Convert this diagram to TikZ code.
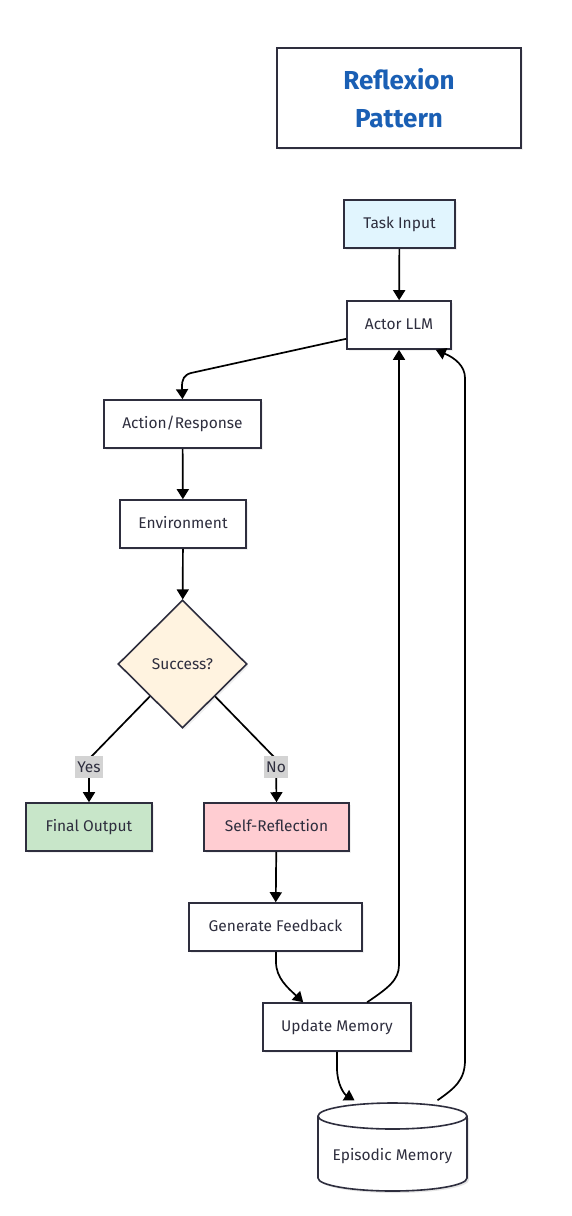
\documentclass[tikz,border=0pt]{standalone}
\usepackage{fontspec}
\setmainfont{Fira Sans}
\usetikzlibrary{arrows.meta,shapes.geometric,shadows}
\definecolor{bordc}{HTML}{2E2E3E}
\definecolor{titc}{HTML}{1A5FB4}
\definecolor{taskc}{HTML}{E1F5FE}
\definecolor{decc}{HTML}{FFF3E0}
\definecolor{finc}{HTML}{C8E6C9}
\definecolor{selfc}{HTML}{FFCDD2}
\definecolor{lblc}{HTML}{D3D3D3}
\tikzset{
  txt/.style={font=\fontsize{15.5}{18}\selectfont, text=bordc},
  box/.style={draw=bordc, line width=1.6pt, fill=white, minimum height=48pt, inner sep=0pt, txt,
    text height=11.5pt, text depth=3.5pt,
    drop shadow={opacity=0.12, shadow xshift=2pt, shadow yshift=-2pt}},
  arr/.style={line width=1.7pt, -{Triangle[width=12pt,length=10pt]}},
  lbl/.style={fill=lblc, inner xsep=2pt, inner ysep=0pt, minimum height=22pt, txt},
}
\begin{document}
\begin{tikzpicture}[x=1pt,y=-1pt]
\useasboundingbox (0,0) rectangle (572,1216);
\node[draw=bordc, line width=1.6pt, minimum width=244pt, minimum height=100pt, align=center,
  font=\fontsize{26}{38}\selectfont\bfseries, text=titc,
  drop shadow={opacity=0.12, shadow xshift=2pt, shadow yshift=-2pt}, fill=white] (title) at (399,98) {Reflexion\\Pattern};
\node[box, fill=taskc, minimum width=111pt] (task) at (399.5,224) {Task Input};
\node[box, minimum width=104pt] (actor) at (399,325) {Actor LLM};
\node[box, minimum width=157pt] (action) at (182.5,424) {Action/Response};
\node[box, minimum width=126pt] (env) at (183,524) {Environment};
\node[diamond, aspect=1, draw=bordc, line width=1.6pt, fill=decc, minimum width=129pt, minimum height=128pt, inner sep=0pt, txt,
  drop shadow={opacity=0.12, shadow xshift=2pt, shadow yshift=-2pt}] (succ) at (182.5,664) {Success?};
\node[box, fill=finc, minimum width=126pt] (final) at (89,827) {Final Output};
\node[box, fill=selfc, minimum width=145pt] (self) at (276.5,827) {Self-Reflection};
\node[box, minimum width=173pt] (gen) at (275.5,927) {Generate Feedback};
\node[box, minimum width=148pt] (upd) at (337,1027) {Update Memory};
% cylinder
\node[minimum width=149pt, minimum height=89pt, inner sep=0pt] (epi) at (392.5,1147) {};
\fill[black, opacity=0.1] (320,1118) -- (320,1180) .. controls (320,1187.2) and (353.4,1193) .. (394.5,1193) .. controls (435.6,1193) and (469,1187.2) .. (469,1180) -- (469,1118) -- cycle;
\filldraw[draw=bordc, fill=white, line width=1.6pt] (318,1116) -- (318,1178)
  .. controls (318,1185.2) and (351.4,1191) .. (392.5,1191) .. controls (433.6,1191) and (467,1185.2) .. (467,1178)
  -- (467,1116) .. controls (467,1108.8) and (433.6,1103) .. (392.5,1103) .. controls (351.4,1103) and (318,1108.8) .. (318,1116) -- cycle;
\draw[draw=bordc, line width=1.6pt] (318,1116) .. controls (318,1123.2) and (351.4,1129) .. (392.5,1129) .. controls (433.6,1129) and (467,1123.2) .. (467,1116);
\node[txt] (epitext) at (392.5,1156) {Episodic Memory};
% edges
\draw[arr] (task) -- (actor);
\draw[arr] ([yshift=11pt]actor.south west) -- (191,373) .. controls (184,375) and (182,379) .. (182,387) -- (action.north);
\draw[arr] (action) -- (env);
\draw[arr] (env) -- (succ);
\draw[arr] (succ.south west) -- (89,759) -- (final.north);
\draw[arr] (succ.south east) -- (276,759) -- (self.north);
\node[lbl] (yes) at (89,767) {Yes};
\node[lbl] (no) at (276,767) {No};
\draw[arr] (self) -- (gen);
\draw[arr] ([xshift=0.5pt]gen.south) -- (276,962) .. controls (276,978) and (288,988) .. ([xshift=41pt]upd.north west);
\draw[arr] ([xshift=105pt]upd.north west) .. controls (388,988) and (399,980) .. (399,965) -- (actor.south);
\draw[arr] (upd.south) -- (337,1068) .. controls (337,1084) and (344,1094) .. ([xshift=-38pt,yshift=2pt]epi.north);
\draw[arr] ([xshift=45pt,yshift=2pt]epi.north) .. controls (455,1088) and (465,1080) .. (465,1060) -- (465,378) .. controls (465,366) and (455,358) .. ([xshift=-16pt]actor.south east);
\end{tikzpicture}
\end{document}
